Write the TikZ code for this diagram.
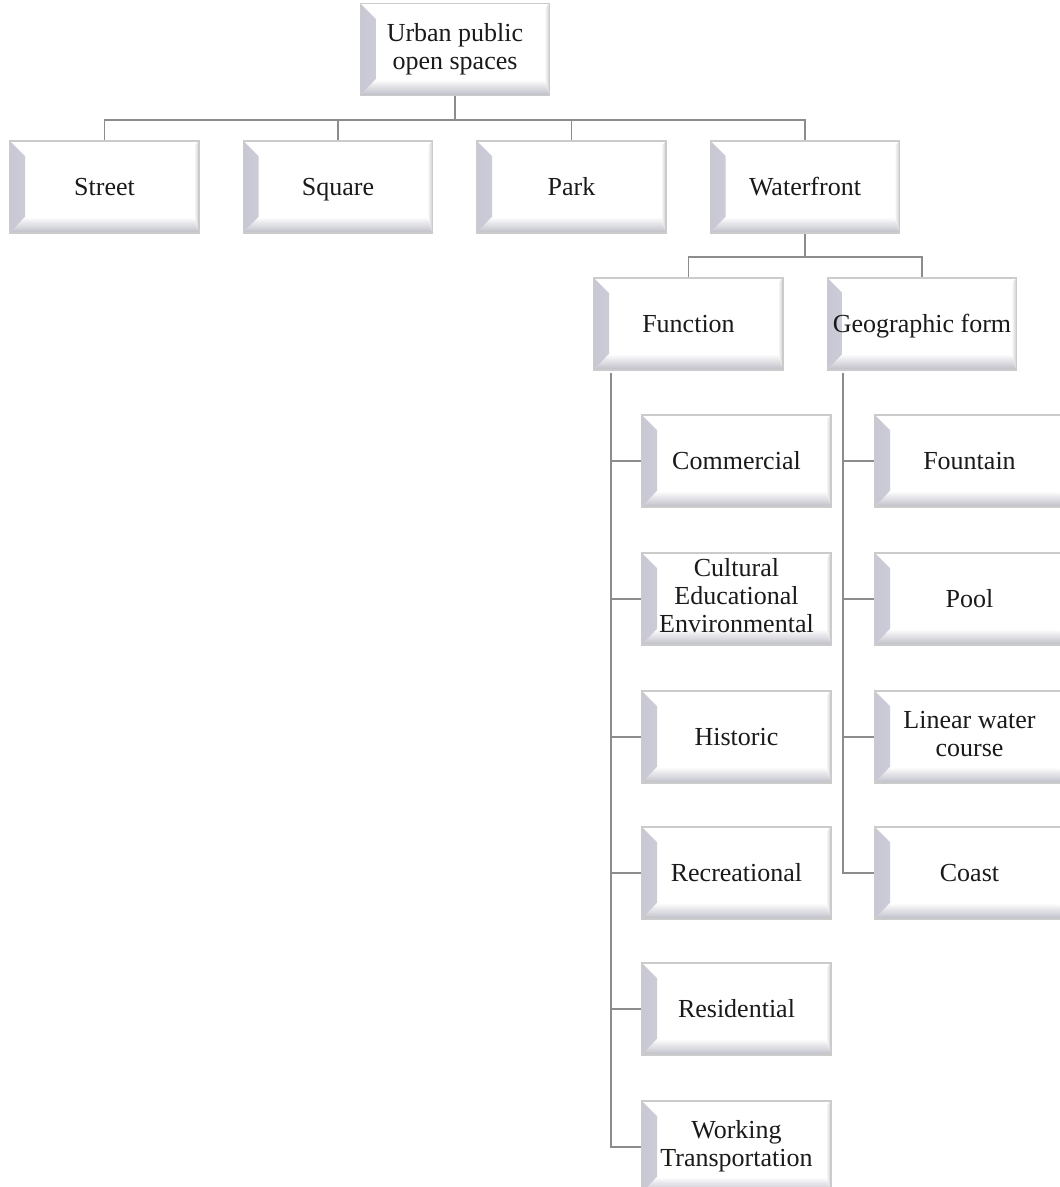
\documentclass[tikz,border=0pt]{standalone}
\usepackage{fontspec}
\setmainfont{Liberation Serif}
\usetikzlibrary{calc}
\definecolor{edgegray}{HTML}{CBCBCB}
\definecolor{bevelside}{HTML}{C8C8D5}
\definecolor{bevelbase}{HTML}{BDBDC7}
\definecolor{linkgray}{HTML}{8C8C8C}
\definecolor{inkgray}{HTML}{1A1A1A}
% strut that centres the lowercase body of a line on the box centre
\newcommand{\boxstrut}{\rule[-6.6pt]{0pt}{30.6pt}}
\tikzset{
  bevelbox/.style={
    rectangle, draw=edgegray, line width=1.6pt, fill=white,
    minimum width=189pt, minimum height=92pt, inner sep=0pt,
    align=center, font=\fontsize{26}{28}\selectfont, text=inkgray,
    execute at begin node={\boxstrut}, execute at end node={\boxstrut},
    path picture={
      % left bevel
      \shade[left color=bevelside, right color=white]
        (path picture bounding box.north west)
        -- ($(path picture bounding box.north west)+(15,15)$)
        -- ($(path picture bounding box.south west)+(15,-16)$)
        -- (path picture bounding box.south west) -- cycle;
      % bottom bevel
      \shade[top color=white, bottom color=bevelbase]
        (path picture bounding box.south west)
        -- ($(path picture bounding box.south west)+(15,-16)$)
        -- ($(path picture bounding box.south east)+(-5,-16)$)
        -- (path picture bounding box.south east) -- cycle;
      % right bevel
      \shade[left color=white, right color=edgegray]
        (path picture bounding box.north east)
        -- ($(path picture bounding box.north east)+(-4,4)$)
        -- ($(path picture bounding box.south east)+(-5,-16)$)
        -- (path picture bounding box.south east) -- cycle;
    }},
  link/.style={draw=linkgray, line width=1.8pt}
}
\begin{document}
\begin{tikzpicture}[x=1pt,y=-1pt]
\useasboundingbox (0,0) rectangle (1060,1187);
\clip (0,0) rectangle (1060,1187);

% root (text sits a little low in its box)
\node[bevelbox, execute at begin node={\rule[-6.6pt]{0pt}{39.6pt}}]
  (root) at (455,49.5) {Urban public\\open spaces};

% categories
\node[bevelbox] (street) at (104.5,187) {Street};
\node[bevelbox] (square) at (338,187) {Square};
\node[bevelbox] (park) at (571.5,187) {Park};
\node[bevelbox] (water) at (805,187) {Waterfront};

% waterfront classification
\node[bevelbox] (func) at (688.5,324) {Function};
\node[bevelbox] (geo) at (922,324) {Geographic form};

% functions
\node[bevelbox] (comm) at (736.5,461) {Commercial};
\node[bevelbox] (cult) at (736.5,599) {Cultural\\Educational\\Environmental};
\node[bevelbox] (hist) at (736.5,737) {Historic};
\node[bevelbox] (recr) at (736.5,873) {Recreational};
\node[bevelbox] (resi) at (736.5,1009) {Residential};
\node[bevelbox] (work) at (736.5,1147) {Working\\Transportation};

% geographic forms
\node[bevelbox] (fount) at (969.5,461) {Fountain};
\node[bevelbox] (pool) at (969.5,599) {Pool};
\node[bevelbox] (linear) at (969.5,737) {Linear water\\course};
\node[bevelbox] (coast) at (969.5,873) {Coast};

% root to categories
\coordinate (rootbus) at (455,120);
\draw[link] (root.south) -- (rootbus);
\draw[link] (rootbus) -| (street.north);
\draw[link] (rootbus) -| (square.north);
\draw[link] (rootbus) -| (park.north);
\draw[link] (rootbus) -| (water.north);

% waterfront to its two classifications
\coordinate (waterbus) at (805,257);
\draw[link] (water.south) -- (waterbus);
\draw[link] (waterbus) -| (func.north);
\draw[link] (waterbus) -| (geo.north);

% function list
\coordinate (funcbus) at (611,373);
\draw[link] (funcbus) |- (work.west);
\foreach \n in {comm,cult,hist,recr,resi}
  \draw[link] (funcbus |- \n.west) -- (\n.west);

% geographic form list
\coordinate (geobus) at (843,373);
\draw[link] (geobus) |- (coast.west);
\foreach \n in {fount,pool,linear}
  \draw[link] (geobus |- \n.west) -- (\n.west);
\end{tikzpicture}
\end{document}
